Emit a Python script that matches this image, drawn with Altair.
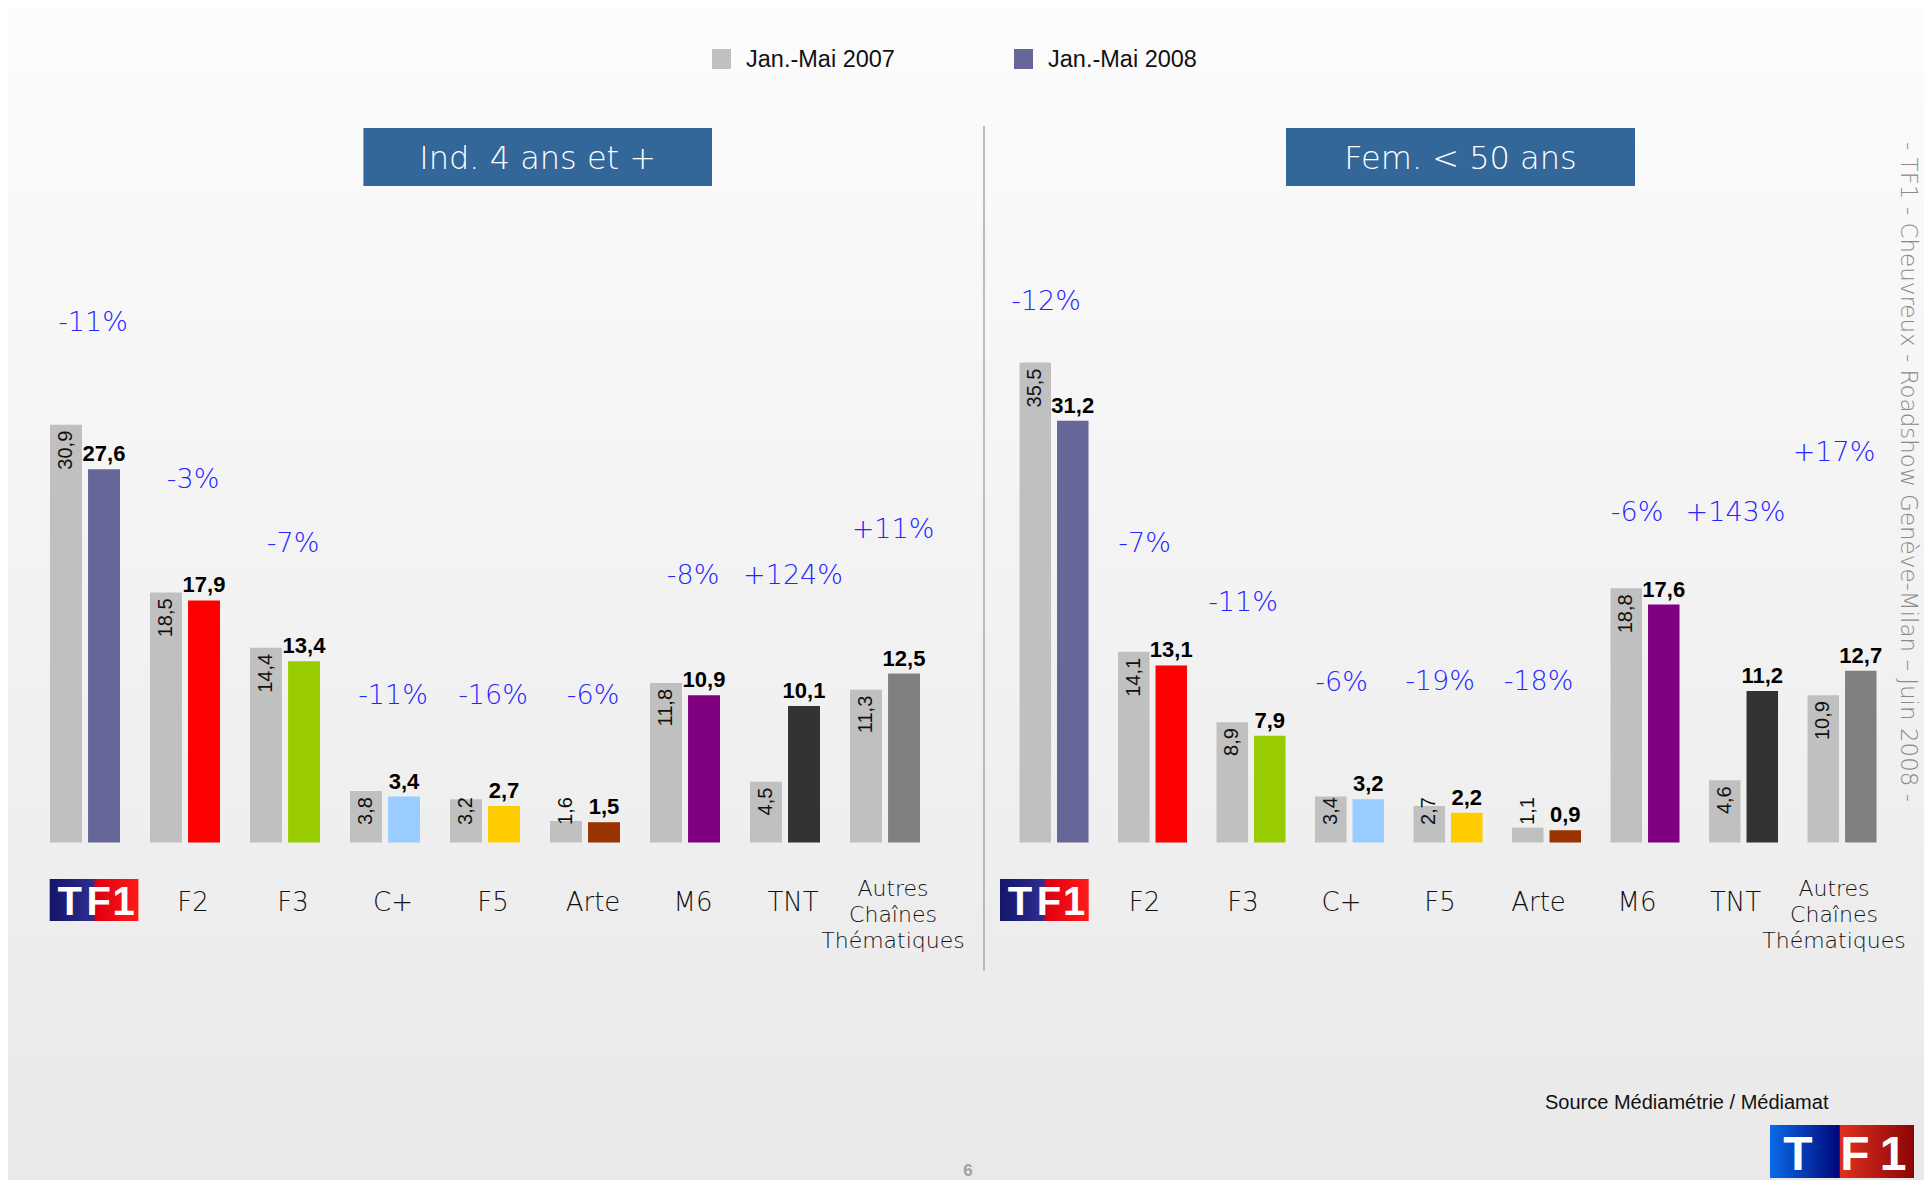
import altair as alt
import pandas as pd

# ---------------- data ----------------
channels = ["TF1", "F2", "F3", "C+", "F5", "Arte", "M6", "TNT", "Autres"]
axis_labels = ["", "F2", "F3", "C+", "F5", "Arte", "M6", "TNT", ""]
autres_lines = ["Autres", "Chaînes", "Thématiques"]
channel_colors = ["#666699", "#FF0000", "#99CC00", "#99CCFF", "#FFCC00",
                  "#993300", "#800080", "#333333", "#808080"]
color_2007 = "#C0C0C0"
legend_labels = ["Jan.-Mai 2007", "Jan.-Mai 2008"]

ind_2007 = [30.9, 18.5, 14.4, 3.8, 3.2, 1.6, 11.8, 4.5, 11.3]
ind_2008 = [27.6, 17.9, 13.4, 3.4, 2.7, 1.5, 10.9, 10.1, 12.5]
ind_change = ["-11%", "-3%", "-7%", "-11%", "-16%", "-6%", "-8%", "+124%", "+11%"]
ind_change_level = [38.4, 26.8, 22.1, 10.8, 10.8, 10.8, 19.7, 19.7, 23.1]

fem_2007 = [35.5, 14.1, 8.9, 3.4, 2.7, 1.1, 18.8, 4.6, 10.9]
fem_2008 = [31.2, 13.1, 7.9, 3.2, 2.2, 0.9, 17.6, 11.2, 12.7]
fem_change = ["-12%", "-7%", "-11%", "-6%", "-19%", "-18%", "-6%", "+143%", "+17%"]
fem_change_level = [40.0, 22.1, 17.7, 11.8, 11.9, 11.9, 24.4, 24.4, 28.8]

panel_titles = ["Ind. 4 ans et +", "Fem. < 50 ans"]
source_text = "Source Médiamétrie / Médiamat"
side_text = "- TF1 - Cheuvreux - Roadshow Genève-Milan – Juin 2008 -"

# ---------------- layout / style ----------------
W, H = 1916, 1172
LIGHT = "DejaVu Sans"
ARIAL = "Liberation Sans"
BLUE_TXT = "#2626FF"
MIN_LABEL_LEVEL = 3.8   # rotated 2007 labels never go below this level

yscale = alt.Scale(domain=[0, 40], range=[834.5, 293.7], nice=False, zero=True)


def fmt(v):
    return f"{v:.1f}".replace(".", ",")


def panel(v07, v08, changes, levels, x_range, off_range, dx):
    bars = pd.DataFrame({
        "channel": channels * 2,
        "year": ["2007"] * len(channels) + ["2008"] * len(channels),
        "value": v07 + v08,
        "color": [color_2007] * len(channels) + channel_colors,
        "label": [fmt(v) for v in v07 + v08],
    })
    ch = pd.DataFrame({"channel": channels, "change": changes,
                       "level": levels, "axis": axis_labels})
    x = alt.X("channel:N", sort=channels,
              scale=alt.Scale(range=x_range, paddingInner=0.3, paddingOuter=0.15),
              axis=None)
    xo = alt.XOffset("year:N", sort=["2007", "2008"],
                     scale=alt.Scale(range=off_range, paddingInner=0.16, paddingOuter=0))
    y = alt.Y("value:Q", scale=yscale, axis=None)
    base = alt.Chart(bars).encode(x=x, xOffset=xo)
    b = base.mark_bar().encode(y=y, color=alt.Color("color:N", scale=None))
    t07 = base.transform_filter("datum.year == '2007'").transform_calculate(
        lab_y=f"max(datum.value, {MIN_LABEL_LEVEL})").mark_text(
        angle=270, align="right", baseline="middle", dx=-6,
        font=ARIAL, fontSize=20, color="#111111").encode(
        y=alt.Y("lab_y:Q", scale=yscale, axis=None), text="label:N")
    t08 = base.transform_filter("datum.year == '2008'").mark_text(
        align="center", baseline="alphabetic", dy=-8,
        font=ARIAL, fontWeight="bold", fontSize=22, color="#000000").encode(
        y=y, text="label:N")
    cb = alt.Chart(ch).encode(x=x)
    pct = cb.mark_text(align="center", baseline="middle", dx=dx, font=LIGHT,
                       fontWeight=300, fontSize=27, color=BLUE_TXT).encode(
        y=alt.Y("level:Q", scale=yscale, axis=None), text="change:N")
    lab1 = cb.transform_filter("datum.axis != ''").mark_text(
        align="center", baseline="alphabetic", dx=dx, font=LIGHT, fontWeight=300,
        fontSize=26, color="#111111").encode(y=alt.value(903), text="axis:N")
    multi = [cb.transform_filter("datum.channel == 'Autres'").mark_text(
        text=line, align="center", baseline="alphabetic", dx=dx, dy=26 * i,
        font=LIGHT, fontWeight=300, fontSize=22, color="#111111").encode(y=alt.value(888))
        for i, line in enumerate(autres_lines)]
    return alt.layer(b, t07, t08, pct, lab1, *multi)


one = pd.DataFrame({"k": [0]})


def deco_rect(x1, x2, y1, y2, color):
    return alt.Chart(one).mark_rect(color=color).encode(
        x=alt.value(x1), x2=alt.value(x2), y=alt.value(y1), y2=alt.value(y2))


def deco_text(txt, x, y, **kw):
    return alt.Chart(one).mark_text(text=txt, **kw).encode(x=alt.value(x), y=alt.value(y))


def grad(stops, vertical=False):
    return {"gradient": "linear",
            "stops": [{"offset": o, "color": c} for o, c in stops],
            "x1": 0, "y1": 0, "x2": 0 if vertical else 1, "y2": 1 if vertical else 0}


layers = []
# background
layers.append(deco_rect(0, W, 0, H, grad([(0, "#fcfcfc"), (1, "#e9e9e9")], vertical=True)))

# legend
layers.append(deco_rect(704, 723, 41, 61, color_2007))
layers.append(deco_text(legend_labels[0], 738, 59, align="left", baseline="alphabetic",
                        font=ARIAL, fontSize=23.5, color="#111111"))
layers.append(deco_rect(1006, 1025, 41, 61, channel_colors[0]))
layers.append(deco_text(legend_labels[1], 1040, 59, align="left", baseline="alphabetic",
                        font=ARIAL, fontSize=23.5, color="#111111"))

# title boxes
for (x1, x2), t in zip([(355.4, 704), (1278, 1627)], panel_titles):
    layers.append(deco_rect(x1, x2, 120, 178, "#336699"))
    layers.append(deco_text(t, (x1 + x2) / 2, 161, align="center", baseline="alphabetic",
                            font=LIGHT, fontWeight=300, fontSize=32, color="#ffffff"))

# divider
layers.append(alt.Chart(one).mark_rule(color="#a8a8a8", strokeWidth=1.5).encode(
    x=alt.value(976), y=alt.value(118), y2=alt.value(963)))

# panels
layers.append(panel(ind_2007, ind_2008, ind_change, ind_change_level, [27, 927], [0, 70], 8))
layers.append(panel(fem_2007, fem_2008, fem_change, fem_change_level, [996.75, 1883.25], [0, 69], -8))

# axis logos
axis_grad = grad([(0, "#15156a"), (0.48, "#2d2d8c"), (0.53, "#e00010"), (1, "#ff1a1a")])
for x0 in [41.7, 992]:
    layers.append(deco_rect(x0, x0 + 88.7, 871, 913, axis_grad))
    for letter, off in zip(["T", "F", "1"], [20, 49, 74]):
        layers.append(deco_text(letter, x0 + off, 907, align="center", baseline="alphabetic",
                                font=ARIAL, fontWeight="bold", fontSize=40, color="#ffffff"))

# source + bottom logo
layers.append(deco_text(source_text, 1537, 1101, align="left", baseline="alphabetic",
                        font=ARIAL, fontSize=20, color="#111111"))
logo_grad = grad([(0, "#0a6ae8"), (0.48, "#00087a"), (0.49, "#e03020"), (1, "#8a0505")])
layers.append(deco_rect(1762, 1906, 1117, 1170, logo_grad))
for letter, cx in zip(["T", "F", "1"], [1790, 1847, 1885]):
    layers.append(deco_text(letter, cx, 1162, align="center", baseline="alphabetic",
                            font=ARIAL, fontWeight="bold", fontSize=48, color="#ffffff"))

# side text & page number
layers.append(deco_text(side_text, 1900, 464, angle=90, align="center", baseline="middle",
                        font=LIGHT, fontWeight=300, fontSize=23, color="#8a8a8a"))
layers.append(deco_text("6", 960, 1163, align="center", baseline="middle",
                        font=ARIAL, fontWeight="bold", fontSize=17, color="#a0a0a0"))

chart = alt.layer(*layers).resolve_scale(
    x="independent", xOffset="independent"
).properties(
    width=W, height=H, padding=0,
    autosize=alt.AutoSizeParams(type="none"),
).configure_view(strokeWidth=0).configure(background="white")

chart.save("out.html", embed_options={"renderer": "svg", "actions": False})
